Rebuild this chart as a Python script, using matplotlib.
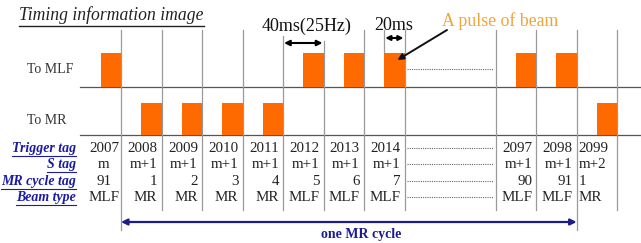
import matplotlib
matplotlib.use("Agg")
import matplotlib.pyplot as plt
from matplotlib.patches import Rectangle


############################################################
# Data
############################################################

trigger_tags = ["2007", "2008", "2009", "2010", "2011", "2012",
                "2013", "2014", "2097", "2098", "2099"]
s_tags = ["m", "m+1", "m+1", "m+1", "m+1", "m+1",
          "m+1", "m+1", "m+1", "m+1", "m+2"]
cycle_tags = ["91", "1", "2", "3", "4", "5", "6", "7", "90", "91", "1"]
beam_types = ["MLF", "MR", "MR", "MR", "MR", "MLF",
              "MLF", "MLF", "MLF", "MLF", "MR"]
# right edge of each trigger slot, in 40 ms slots (gap after 2014)
slot_end = [0, 1, 2, 3, 4, 5, 6, 7, 10.25, 11.25, 12.25]
gap_slot = [7, 9.25]

SLOT_MS = 40
PULSE_MS = 20

row_labels = ["Trigger tag", "S tag", "MR cycle tag", "Beam type"]
row_values = [trigger_tags, s_tags, cycle_tags, beam_types]

############################################################
# Layout (pixels vertically, ms horizontally)
############################################################

W, H = 641, 243
X0 = 121              # pixel position of t = 0
PX_PER_MS = 1.0125


def fx(p):
    return (p - X0) / PX_PER_MS


ends = [s * SLOT_MS for s in slot_end]

base_y = {"MLF": 87, "MR": 135}
pulse_h = {"MLF": 34, "MR": 32}
row_y = [148, 164, 181, 197]

SERIF = ["Liberation Serif", "DejaVu Serif"]
ORANGE = "#ff6a00"
BLUE = "#1a1aa6"
NAVY = "#1c1c8c"
GRID = "#9a9a9a"

fig = plt.figure(figsize=(W / 100, H / 100), dpi=100)
ax = fig.add_axes([0, 0, 1, 1])
ax.set_xlim(fx(0), fx(W))
ax.set_ylim(H, 0)
ax.axis("off")

renderer = fig.canvas.get_renderer()


def underline(t, color, lw=0.9, gap=1.5):
    bb = t.get_window_extent(renderer)
    inv = ax.transData.inverted()
    (x1, y1), (x2, _) = inv.transform([(bb.x0, bb.y0), (bb.x1, bb.y0)])
    ax.plot([x1, x2], [y1 + gap, y1 + gap], color=color, lw=lw)


############################################################
# Title and row names
############################################################

t = ax.text(fx(19), 15, "Timing information image", family=SERIF,
            style="italic", fontsize=12.7, color="#222222",
            ha="left", va="center")
underline(t, "#222222", lw=1.0, gap=2.5)

ax.text(fx(27), 69, "To MLF", family=SERIF, fontsize=10,
        color="#333333", ha="left", va="center")
ax.text(fx(27), 120, "To MR", family=SERIF, fontsize=10,
        color="#333333", ha="left", va="center")

############################################################
# Baselines, slot lines, pulses
############################################################

for b in base_y.values():
    ax.plot([fx(80), fx(W)], [b, b], color="#555555", lw=0.9)

line_top = {4: 36, 5: 41}
for i, e in enumerate(ends):
    bottom = 230 if i in (0, 9) else 210
    ax.plot([e, e], [line_top.get(i, 30), bottom], color=GRID, lw=0.9)
ax.plot([gap_slot[1] * SLOT_MS] * 2, [30, 210], color=GRID, lw=0.9)

for e, bt in zip(ends, beam_types):
    ax.add_patch(Rectangle((e - PULSE_MS, base_y[bt] - pulse_h[bt]),
                           PULSE_MS, pulse_h[bt], facecolor=ORANGE,
                           edgecolor="none", zorder=3))

# 20 ms marker line at the 2014 pulse
ax.plot([ends[7] - PULSE_MS] * 2, [30, base_y["MLF"] - pulse_h["MLF"]],
        color=GRID, lw=0.9)

# dotted gap lines
gx = [gap_slot[0] * SLOT_MS + 2, gap_slot[1] * SLOT_MS - 3]
for y in [69] + row_y:
    ax.plot(gx, [y, y], color="#666666", lw=0.8, linestyle=(0, (1, 1)))

############################################################
# Annotations
############################################################

ax.text(fx(307), 26, "40ms(25Hz)", family=SERIF, fontsize=13,
        ha="center", va="center", color="#111111")
ax.annotate("", xy=(ends[4] + 1, 43), xytext=(ends[5] - 1, 43),
            arrowprops=dict(arrowstyle="<|-|>", color="black", lw=1.5,
                            mutation_scale=8, shrinkA=0, shrinkB=0))

ax.text(fx(394), 25, "20ms", family=SERIF, fontsize=13,
        ha="center", va="center", color="#111111")
ax.annotate("", xy=(ends[7] - PULSE_MS + 1, 38), xytext=(ends[7] - 1, 38),
            arrowprops=dict(arrowstyle="<|-|>", color="black", lw=1.5,
                            mutation_scale=7, shrinkA=0, shrinkB=0))

ax.text(fx(500), 21, "A pulse of beam", family=SERIF, fontsize=12.8,
        ha="center", va="center", color="#f0a53a")
ax.annotate("", xy=(ends[7] - 7, 60), xytext=(fx(447), 30),
            arrowprops=dict(arrowstyle="-|>", color="#111111", lw=1.4,
                            mutation_scale=9, shrinkA=0, shrinkB=0))

############################################################
# Table
############################################################

for label, y, values in zip(row_labels, row_y, row_values):
    t = ax.text(fx(76), y, label, family=SERIF, fontsize=10,
                style="italic", weight="bold", color=BLUE,
                ha="right", va="center")
    underline(t, BLUE, lw=0.8, gap=1.5)

    for i, (e, v) in enumerate(zip(ends, values)):
        if i == 0:
            x, ha = fx(104), "center"
        elif i == len(ends) - 1:
            x, ha = ends[i - 1] + fx(X0 + 2), "left"
        else:
            x, ha = e - 4 / PX_PER_MS, "right"
        ax.text(x, y, v, family=SERIF, fontsize=10.8, color="#222222",
                ha=ha, va="center")

############################################################
# MR cycle arrow
############################################################

ax.annotate("", xy=(ends[0], 222), xytext=(ends[9], 222),
            arrowprops=dict(arrowstyle="<|-|>", color=NAVY, lw=1.6,
                            mutation_scale=9, shrinkA=0, shrinkB=0))
ax.text(fx(361), 234, "one MR cycle", family=SERIF,
        fontsize=10, weight="bold", color=NAVY, ha="center", va="center")

fig.savefig("out.png", dpi=100)
